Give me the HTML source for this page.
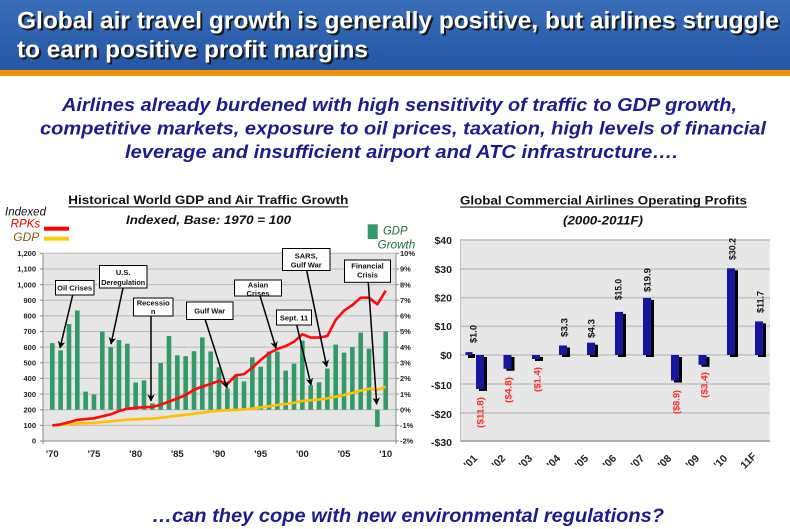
<!DOCTYPE html>
<html><head><meta charset="utf-8"><style>
html,body{margin:0;padding:0;background:#fff;}
svg{display:block;}
text{font-family:"Liberation Sans",Arial,sans-serif;}
</style></head><body>
<svg width="790" height="529" viewBox="0 0 790 529" xmlns="http://www.w3.org/2000/svg">
<defs>
<linearGradient id="hdr" x1="0" y1="0" x2="0" y2="1">
<stop offset="0" stop-color="#3a6db8"/><stop offset="0.5" stop-color="#2c62b0"/><stop offset="1" stop-color="#2457a6"/>
</linearGradient>
<marker id="ah" viewBox="0 0 10 10" refX="9" refY="5" markerWidth="5" markerHeight="5" orient="auto">
<path d="M0,0 L10,5 L0,10 L3,5 z" fill="#000"/>
</marker>
</defs>
<rect x="0" y="0" width="790" height="529" fill="#fff"/>
<!-- header -->
<rect x="0" y="0" width="790" height="70" fill="url(#hdr)"/>
<rect x="0" y="70" width="790" height="6" fill="#f0920a"/>
<g font-weight="bold" font-size="24.5">
<text x="19" y="30.5" textLength="762" lengthAdjust="spacingAndGlyphs" fill="#1a1a1a">Global air travel growth is generally positive, but airlines struggle</text>
<text x="19" y="59.3" textLength="351" lengthAdjust="spacingAndGlyphs" fill="#1a1a1a">to earn positive profit margins</text>
<text x="17" y="28.5" textLength="762" lengthAdjust="spacingAndGlyphs" fill="#fff">Global air travel growth is generally positive, but airlines struggle</text>
<text x="17" y="57.3" textLength="351" lengthAdjust="spacingAndGlyphs" fill="#fff">to earn positive profit margins</text>
</g>
<!-- subtitle -->
<g font-weight="bold" font-style="italic" font-size="18.5" fill="#1c1c8e">
<text x="62" y="111" textLength="675" lengthAdjust="spacingAndGlyphs">Airlines already burdened with high sensitivity of traffic to GDP growth,</text>
<text x="40" y="134.5" textLength="726" lengthAdjust="spacingAndGlyphs">competitive markets, exposure to oil prices, taxation, high levels of financial</text>
<text x="125" y="158" textLength="553" lengthAdjust="spacingAndGlyphs">leverage and insufficient airport and ATC infrastructure….</text>
<text x="152" y="522" textLength="512" lengthAdjust="spacingAndGlyphs" font-size="19.5">…can they cope with new environmental regulations?</text>
</g>

<!-- LEFT CHART -->
<text x="68.3" y="204" textLength="280" lengthAdjust="spacingAndGlyphs" font-size="12" font-weight="bold" fill="#111">Historical World GDP and Air Traffic Growth</text>
<rect x="68.3" y="206.3" width="280" height="1.1" fill="#111"/>
<text x="126" y="224" textLength="165" lengthAdjust="spacingAndGlyphs" font-size="12" font-weight="bold" font-style="italic" fill="#111">Indexed, Base: 1970 = 100</text>
<g font-style="italic" font-size="11.5">
<text x="5" y="215.5" textLength="41" lengthAdjust="spacingAndGlyphs" fill="#111">Indexed</text>
<text x="10.7" y="227.7" textLength="29.5" lengthAdjust="spacingAndGlyphs" fill="#e00000">RPKs</text>
<text x="13.3" y="241" textLength="26" lengthAdjust="spacingAndGlyphs" fill="#8b5a00">GDP</text>
<text x="383" y="234.3" textLength="24.5" lengthAdjust="spacingAndGlyphs" fill="#1f6e3a">GDP</text>
<text x="377.7" y="248.3" textLength="37.5" lengthAdjust="spacingAndGlyphs" fill="#1f6e3a">Growth</text>
</g>
<rect x="44" y="226.7" width="25" height="4" fill="#ff0000"/>
<rect x="44" y="236.7" width="25" height="4" fill="#ffcc00"/>
<rect x="367.7" y="224.3" width="10" height="14.7" fill="#339966"/>

<rect x="43" y="253.3" width="353" height="187.7" fill="#e6e6e6"/>
<g stroke="#b9b9b9" stroke-width="1">
<line x1="43" x2="396" y1="425.36" y2="425.36"/><line x1="43" x2="396" y1="409.72" y2="409.72"/>
<line x1="43" x2="396" y1="394.07" y2="394.07"/><line x1="43" x2="396" y1="378.43" y2="378.43"/>
<line x1="43" x2="396" y1="362.79" y2="362.79"/><line x1="43" x2="396" y1="347.15" y2="347.15"/>
<line x1="43" x2="396" y1="331.51" y2="331.51"/><line x1="43" x2="396" y1="315.86" y2="315.86"/>
<line x1="43" x2="396" y1="300.22" y2="300.22"/><line x1="43" x2="396" y1="284.58" y2="284.58"/>
<line x1="43" x2="396" y1="268.94" y2="268.94"/><line x1="43" x2="396" y1="253.3" y2="253.3"/>
</g>
<g stroke="#888" stroke-width="1">
<line x1="43" y1="253.3" x2="43" y2="441"/><line x1="396" y1="253.3" x2="396" y2="441"/>
<line x1="43" y1="441" x2="396" y2="441"/>
<line x1="40" x2="43" y1="441" y2="441"/><line x1="40" x2="43" y1="425.36" y2="425.36"/><line x1="40" x2="43" y1="409.72" y2="409.72"/><line x1="40" x2="43" y1="394.07" y2="394.07"/><line x1="40" x2="43" y1="378.43" y2="378.43"/><line x1="40" x2="43" y1="362.79" y2="362.79"/><line x1="40" x2="43" y1="347.15" y2="347.15"/><line x1="40" x2="43" y1="331.51" y2="331.51"/><line x1="40" x2="43" y1="315.86" y2="315.86"/><line x1="40" x2="43" y1="300.22" y2="300.22"/><line x1="40" x2="43" y1="284.58" y2="284.58"/><line x1="40" x2="43" y1="268.94" y2="268.94"/><line x1="40" x2="43" y1="253.3" y2="253.3"/>
<line x1="396" x2="399" y1="441" y2="441"/><line x1="396" x2="399" y1="425.36" y2="425.36"/><line x1="396" x2="399" y1="409.72" y2="409.72"/><line x1="396" x2="399" y1="394.07" y2="394.07"/><line x1="396" x2="399" y1="378.43" y2="378.43"/><line x1="396" x2="399" y1="362.79" y2="362.79"/><line x1="396" x2="399" y1="347.15" y2="347.15"/><line x1="396" x2="399" y1="331.51" y2="331.51"/><line x1="396" x2="399" y1="315.86" y2="315.86"/><line x1="396" x2="399" y1="300.22" y2="300.22"/><line x1="396" x2="399" y1="284.58" y2="284.58"/><line x1="396" x2="399" y1="268.94" y2="268.94"/><line x1="396" x2="399" y1="253.3" y2="253.3"/>
<line x1="43" y1="441" x2="43" y2="444"/><line x1="396" y1="441" x2="396" y2="444"/>
</g>
<g font-size="7.5" font-weight="bold" fill="#222" text-anchor="end">
<text x="36" y="443.7">0</text><text x="36" y="428">100</text><text x="36" y="412.4">200</text><text x="36" y="396.8">300</text>
<text x="36" y="381.1">400</text><text x="36" y="365.5">500</text><text x="36" y="349.9">600</text><text x="36" y="334.2">700</text>
<text x="36" y="318.6">800</text><text x="36" y="302.9">900</text><text x="36" y="287.3">1,000</text><text x="36" y="271.7">1,100</text><text x="36" y="256">1,200</text>
</g>
<g font-size="7.5" font-weight="bold" fill="#222">
<text x="400" y="443.7">-2%</text><text x="400" y="428">-1%</text><text x="400" y="412.4">0%</text><text x="400" y="396.8">1%</text>
<text x="400" y="381.1">2%</text><text x="400" y="365.5">3%</text><text x="400" y="349.9">4%</text><text x="400" y="334.2">5%</text>
<text x="400" y="318.6">6%</text><text x="400" y="302.9">7%</text><text x="400" y="287.3">8%</text><text x="400" y="271.7">9%</text><text x="400" y="256">10%</text>
</g>
<g font-size="9.5" font-weight="bold" fill="#222" text-anchor="middle">
<text x="52.3" y="457">'70</text><text x="94" y="457">'75</text><text x="135.7" y="457">'80</text><text x="177.3" y="457">'85</text>
<text x="219" y="457">'90</text><text x="260.7" y="457">'95</text><text x="302.4" y="457">'00</text><text x="344" y="457">'05</text><text x="385.7" y="457">'10</text>
</g>
<!-- GDP growth bars -->
<g fill="#339966">
<rect x="50.00" y="343.1" width="4.6" height="66.6"/>
<rect x="58.34" y="350.3" width="4.6" height="59.4"/>
<rect x="66.67" y="324.0" width="4.6" height="85.7"/>
<rect x="75.01" y="310.5" width="4.6" height="99.2"/>
<rect x="83.34" y="391.6" width="4.6" height="18.1"/>
<rect x="91.68" y="394.5" width="4.6" height="15.2"/>
<rect x="100.01" y="331.6" width="4.6" height="78.1"/>
<rect x="108.35" y="347.1" width="4.6" height="62.6"/>
<rect x="116.68" y="340.1" width="4.6" height="69.6"/>
<rect x="125.02" y="343.7" width="4.6" height="66.0"/>
<rect x="133.35" y="382.5" width="4.6" height="27.2"/>
<rect x="141.69" y="380.4" width="4.6" height="29.3"/>
<rect x="150.02" y="403.4" width="4.6" height="6.3"/>
<rect x="158.36" y="362.9" width="4.6" height="46.8"/>
<rect x="166.69" y="336.0" width="4.6" height="73.7"/>
<rect x="175.03" y="355.3" width="4.6" height="54.4"/>
<rect x="183.36" y="356.2" width="4.6" height="53.5"/>
<rect x="191.70" y="351.2" width="4.6" height="58.5"/>
<rect x="200.03" y="337.4" width="4.6" height="72.3"/>
<rect x="208.37" y="351.5" width="4.6" height="58.2"/>
<rect x="216.70" y="367.3" width="4.6" height="42.4"/>
<rect x="225.04" y="388.4" width="4.6" height="21.3"/>
<rect x="233.37" y="376.1" width="4.6" height="33.6"/>
<rect x="241.71" y="381.5" width="4.6" height="28.2"/>
<rect x="250.04" y="357.3" width="4.6" height="52.4"/>
<rect x="258.38" y="366.7" width="4.6" height="43.0"/>
<rect x="266.71" y="351.5" width="4.6" height="58.2"/>
<rect x="275.05" y="351.5" width="4.6" height="58.2"/>
<rect x="283.38" y="370.6" width="4.6" height="39.1"/>
<rect x="291.72" y="363.6" width="4.6" height="46.1"/>
<rect x="300.05" y="340.6" width="4.6" height="69.1"/>
<rect x="308.39" y="385.1" width="4.6" height="24.6"/>
<rect x="316.72" y="382.3" width="4.6" height="27.4"/>
<rect x="325.06" y="368.6" width="4.6" height="41.1"/>
<rect x="333.39" y="344.6" width="4.6" height="65.1"/>
<rect x="341.73" y="352.6" width="4.6" height="57.1"/>
<rect x="350.06" y="347.1" width="4.6" height="62.6"/>
<rect x="358.40" y="332.6" width="4.6" height="77.1"/>
<rect x="366.73" y="348.7" width="4.6" height="61.0"/>
<rect x="375.07" y="409.72" width="4.6" height="17.2"/>
<rect x="383.40" y="331.5" width="4.6" height="78.2"/>
</g>
<polyline fill="none" stroke="#ffc000" stroke-width="2.6" stroke-linejoin="round" points="52.3,425.4 60.6,424.9 69.0,424.1 77.3,423.3 85.6,423.2 94.0,423.0 102.3,422.1 110.6,421.3 119.0,420.5 127.3,419.7 135.7,419.3 144.0,418.8 152.3,418.6 160.7,417.8 169.0,416.8 177.3,415.7 185.7,414.7 194.0,413.8 202.3,412.7 210.7,411.6 219.0,410.7 227.3,410.3 235.7,409.9 244.0,409.4 252.3,408.5 260.7,407.4 269.0,406.3 277.3,405.0 285.7,404.1 294.0,402.8 302.4,401.0 310.7,400.3 319.0,399.5 327.4,398.3 335.7,396.7 344.0,395.0 352.4,393.0 360.7,390.6 369.0,388.8 377.4,390.0 385.7,386.7"/>
<polyline fill="none" stroke="#ff0a0a" stroke-width="2.6" stroke-linejoin="round" points="52.3,425.4 60.6,424.4 69.0,422.2 77.3,419.9 85.6,419.1 94.0,418.3 102.3,416.3 110.6,414.4 119.0,411.0 127.3,408.8 135.7,407.8 144.0,407.2 152.3,406.9 160.7,404.7 169.0,401.6 177.3,398.5 185.7,395.0 194.0,389.7 202.3,386.6 210.7,383.9 219.0,380.8 227.3,384.1 235.7,375.3 244.0,374.1 252.3,367.6 260.7,360.0 269.0,353.2 277.3,349.0 285.7,346.1 294.0,341.7 302.4,334.3 310.7,337.6 319.0,337.6 327.4,336.0 335.7,319.9 344.0,310.7 352.4,305.1 360.7,297.7 369.0,297.7 377.4,304.3 385.7,290.7"/>
<!-- callouts -->
<g stroke="#000" stroke-width="1.5" marker-end="url(#ah)">
<line x1="72.7" y1="295" x2="60" y2="348"/>
<line x1="123" y1="288" x2="111" y2="344"/>
<line x1="151" y1="316" x2="151" y2="401"/>
<line x1="205" y1="319" x2="227" y2="388"/>
<line x1="260" y1="295.7" x2="276" y2="348.3"/>
<line x1="296.7" y1="325" x2="311" y2="385"/>
<line x1="306.7" y1="270.7" x2="326.7" y2="366.7"/>
<line x1="368.3" y1="282.3" x2="376.7" y2="404.3"/>
</g>
<g fill="#fff" stroke="#000" stroke-width="1">
<rect x="55.5" y="280.5" width="38.5" height="14.5"/>
<rect x="99.5" y="265.5" width="47.5" height="22.5"/>
<rect x="133.5" y="298" width="39.5" height="18"/>
<rect x="186.5" y="302" width="46.5" height="17.5"/>
<rect x="234.5" y="280" width="47" height="16"/>
<rect x="276.5" y="310" width="35" height="15"/>
<rect x="282.5" y="248.5" width="47.5" height="22"/>
<rect x="344.5" y="260" width="46" height="22.3"/>
</g>
<g font-size="7.5" font-weight="bold" fill="#111" text-anchor="middle">
<text x="74.7" y="290.5">Oil Crises</text>
<text x="123.2" y="275">U.S.</text>
<text x="123.2" y="285" textLength="44" lengthAdjust="spacingAndGlyphs">Deregulation</text>
<text x="153.2" y="305.3">Recessio</text>
<text x="153.2" y="314">n</text>
<text x="209.7" y="313.5">Gulf War</text>
<text x="258" y="287.5">Asian</text>
<text x="258" y="296">Crises</text>
<text x="294" y="320.5">Sept. 11</text>
<text x="306.2" y="258.3">SARS,</text>
<text x="306.2" y="267.5">Gulf War</text>
<text x="367.5" y="268.5">Financial</text>
<text x="367.5" y="277.3">Crisis</text>
</g>

<!-- RIGHT CHART -->
<text x="460" y="204.3" textLength="287" lengthAdjust="spacingAndGlyphs" font-size="12" font-weight="bold" fill="#111">Global Commercial Airlines Operating Profits</text>
<rect x="460" y="206.5" width="287" height="1.1" fill="#111"/>
<text x="563" y="224.3" textLength="80" lengthAdjust="spacingAndGlyphs" font-size="12" font-weight="bold" font-style="italic" fill="#111">(2000-2011F)</text>
<rect x="460" y="239" width="310" height="203" fill="#e7e7e7"/>
<g stroke="#c2c2c2" stroke-width="1.6">
<line x1="460" x2="770" y1="240" y2="240"/><line x1="460" x2="770" y1="269" y2="269"/>
<line x1="460" x2="770" y1="297.7" y2="297.7"/><line x1="460" x2="770" y1="326.3" y2="326.3"/>
<line x1="460" x2="770" y1="355" y2="355"/><line x1="460" x2="770" y1="384" y2="384"/>
<line x1="460" x2="770" y1="413" y2="413"/>
</g>
<line x1="460" x2="770" y1="441" y2="441" stroke="#9a9a9a" stroke-width="1.5"/>
<line x1="460.5" x2="460.5" y1="239" y2="442" stroke="#bdbdbd" stroke-width="1"/>
<g font-size="10.5" font-weight="bold" fill="#222" text-anchor="end">
<text x="452" y="243.8">$40</text><text x="452" y="272.8">$30</text><text x="452" y="301.5">$20</text>
<text x="452" y="330.1">$10</text><text x="452" y="358.8">$0</text><text x="452" y="388.8">-$10</text>
<text x="452" y="417.8">-$20</text><text x="452" y="446">-$30</text>
</g>
<!-- bars: shadows -->
<g fill="#000">
<rect x="468" y="354" width="7" height="4"/>
<rect x="479" y="357" width="8" height="33.9"/>
<rect x="506.5" y="357" width="8" height="13.8"/>
<rect x="535" y="357" width="8" height="4"/>
<rect x="562" y="347.5" width="8" height="9.5"/>
<rect x="590" y="344.7" width="8" height="12.3"/>
<rect x="618" y="313.9" width="8" height="43.1"/>
<rect x="646" y="299.9" width="8" height="57.1"/>
<rect x="674" y="357" width="8" height="25.5"/>
<rect x="701.5" y="357" width="8" height="9.8"/>
<rect x="730" y="270.3" width="8" height="86.7"/>
<rect x="758" y="323.4" width="8" height="33.6"/>
</g>
<g fill="#16169e">
<rect x="465.5" y="352.1" width="7" height="2.9"/>
<rect x="476" y="355" width="8" height="33.9"/>
<rect x="503.5" y="355" width="8" height="13.8"/>
<rect x="532" y="355" width="8" height="4"/>
<rect x="559" y="345.5" width="8" height="9.5"/>
<rect x="587" y="342.7" width="8" height="12.3"/>
<rect x="615" y="311.9" width="8" height="43.1"/>
<rect x="643" y="297.9" width="8" height="57.1"/>
<rect x="671" y="355" width="8" height="25.5"/>
<rect x="698.5" y="355" width="8" height="9.8"/>
<rect x="727" y="268.3" width="8" height="86.7"/>
<rect x="755" y="321.4" width="8" height="33.6"/>
</g>
<g font-size="9" font-weight="bold" fill="#111">
<text transform="translate(476.5,343) rotate(-90)" textLength="18" lengthAdjust="spacingAndGlyphs">$1.0</text>
<text transform="translate(567.5,337) rotate(-90)" textLength="19" lengthAdjust="spacingAndGlyphs">$3.3</text>
<text transform="translate(594.5,338) rotate(-90)" textLength="19" lengthAdjust="spacingAndGlyphs">$4.3</text>
<text transform="translate(621.5,300) rotate(-90)" textLength="21" lengthAdjust="spacingAndGlyphs">$15.0</text>
<text transform="translate(650.5,292) rotate(-90)" textLength="24" lengthAdjust="spacingAndGlyphs">$19.9</text>
<text transform="translate(735.5,260) rotate(-90)" textLength="22" lengthAdjust="spacingAndGlyphs">$30.2</text>
<text transform="translate(763.5,313) rotate(-90)" textLength="22" lengthAdjust="spacingAndGlyphs">$11.7</text>
</g>
<g font-size="9" font-weight="bold" fill="#ff2a2a">
<text transform="translate(483.5,428) rotate(-90)" textLength="31" lengthAdjust="spacingAndGlyphs">($11.8)</text>
<text transform="translate(511.5,403) rotate(-90)" textLength="26" lengthAdjust="spacingAndGlyphs">($4.8)</text>
<text transform="translate(540.5,392) rotate(-90)" textLength="25" lengthAdjust="spacingAndGlyphs">($1.4)</text>
<text transform="translate(679.5,414) rotate(-90)" textLength="24" lengthAdjust="spacingAndGlyphs">($8.9)</text>
<text transform="translate(707.5,398) rotate(-90)" textLength="26" lengthAdjust="spacingAndGlyphs">($3.4)</text>
</g>
<g font-size="10.5" font-weight="bold" fill="#222" text-anchor="end">
<text transform="translate(478,459) rotate(-45)">'01</text>
<text transform="translate(506,459) rotate(-45)">'02</text>
<text transform="translate(533,459) rotate(-45)">'03</text>
<text transform="translate(561,459) rotate(-45)">'04</text>
<text transform="translate(589,459) rotate(-45)">'05</text>
<text transform="translate(617,459) rotate(-45)">'06</text>
<text transform="translate(645,459) rotate(-45)">'07</text>
<text transform="translate(672,459) rotate(-45)">'08</text>
<text transform="translate(700,459) rotate(-45)">'09</text>
<text transform="translate(728,459) rotate(-45)">'10</text>
<text transform="translate(757,457) rotate(-45)">11F</text>
</g>
</svg>
</body></html>
